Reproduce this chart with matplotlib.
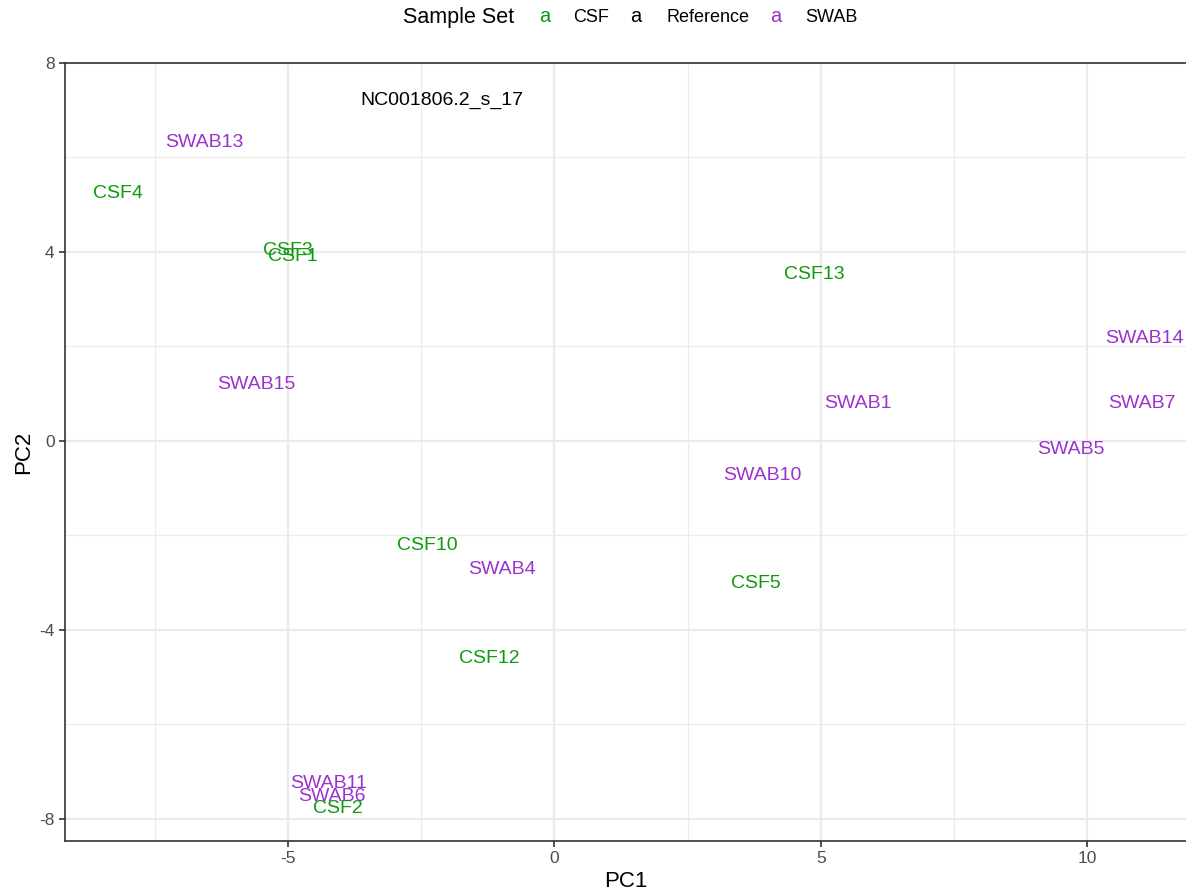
import matplotlib
matplotlib.use("Agg")
from matplotlib import pyplot as plt
from matplotlib.ticker import MultipleLocator

plt.rcParams["font.family"] = ["Liberation Sans", "DejaVu Sans"]
plt.rcParams["axes.unicode_minus"] = False

labels = ["NC001806.2_s_17", "SWAB13", "CSF4", "CSF3", "CSF1", "CSF13", "SWAB14",
          "SWAB15", "SWAB1", "SWAB7", "SWAB5", "SWAB10", "CSF10", "SWAB4", "CSF5",
          "CSF12", "SWAB11", "SWAB6", "CSF2"]
pc1 = [-2.12, -6.57, -8.20, -5.01, -4.92, 4.88, 11.07, -5.59, 5.70, 11.03, 9.70,
       3.90, -2.38, -0.99, 3.79, -1.22, -4.24, -4.18, -4.07]
pc2 = [7.26, 6.35, 5.27, 4.08, 3.94, 3.56, 2.20, 1.23, 0.83, 0.83, -0.15, -0.70,
       -2.18, -2.67, -2.98, -4.57, -7.20, -7.49, -7.75]
sample_set = ["Reference", "SWAB", "CSF", "CSF", "CSF", "CSF", "SWAB", "SWAB", "SWAB",
              "SWAB", "SWAB", "SWAB", "CSF", "SWAB", "CSF", "CSF", "SWAB", "SWAB", "CSF"]

colors = {"CSF": "#0f990f", "Reference": "black", "SWAB": "#9a32cd"}

fig = plt.figure(figsize=(11.86, 8.94), dpi=100)
ax = fig.add_axes([65 / 1186, 53 / 894, 1 - 65 / 1186, (841 - 63) / 894])

for x, y, lab, s in zip(pc1, pc2, labels, sample_set):
    ax.text(x, y, lab, color=colors[s], fontsize=14, ha="center", va="center_baseline")

ax.set_xlim(-9.19, 11.86)
ax.set_ylim(-8.47, 8.0)
ax.xaxis.set_minor_locator(MultipleLocator(2.5))
ax.yaxis.set_major_locator(MultipleLocator(4))
ax.yaxis.set_minor_locator(MultipleLocator(2))
ax.set_xticks([-5, 0, 5, 10])
ax.set_xticklabels(["-5", "0", "5", "10"])
ax.grid(which="major", color="#ebebeb", linewidth=1.6)
ax.grid(which="minor", color="#ebebeb", linewidth=0.8)
ax.set_axisbelow(True)
ax.tick_params(which="minor", length=0)
ax.tick_params(which="major", length=4, width=1.2, color="#333333",
               labelcolor="#4d4d4d", labelsize=12.5)
for side in ["left", "bottom", "top"]:
    ax.spines[side].set_color("#333333")
    ax.spines[side].set_linewidth(1.2)
ax.spines["right"].set_visible(False)

ax.set_xlabel("PC1", fontsize=16, labelpad=3)
ax.set_ylabel("PC2", fontsize=16, labelpad=4)

# legend row at the top
fig.text(403 / 1186, 1 - 17 / 894, "Sample Set", fontsize=15.5, va="center", ha="left")
legend_items = [("CSF", 545, 573), ("Reference", 636, 666), ("SWAB", 776, 805)]
for name, kx, tx in legend_items:
    fig.text(kx / 1186, 1 - 17 / 894, "a", color=colors[name], fontsize=14.5,
             va="center", ha="center")
    fig.text(tx / 1186, 1 - 17 / 894, name, fontsize=13, va="center", ha="left")

fig.savefig("out.png", dpi=100)
